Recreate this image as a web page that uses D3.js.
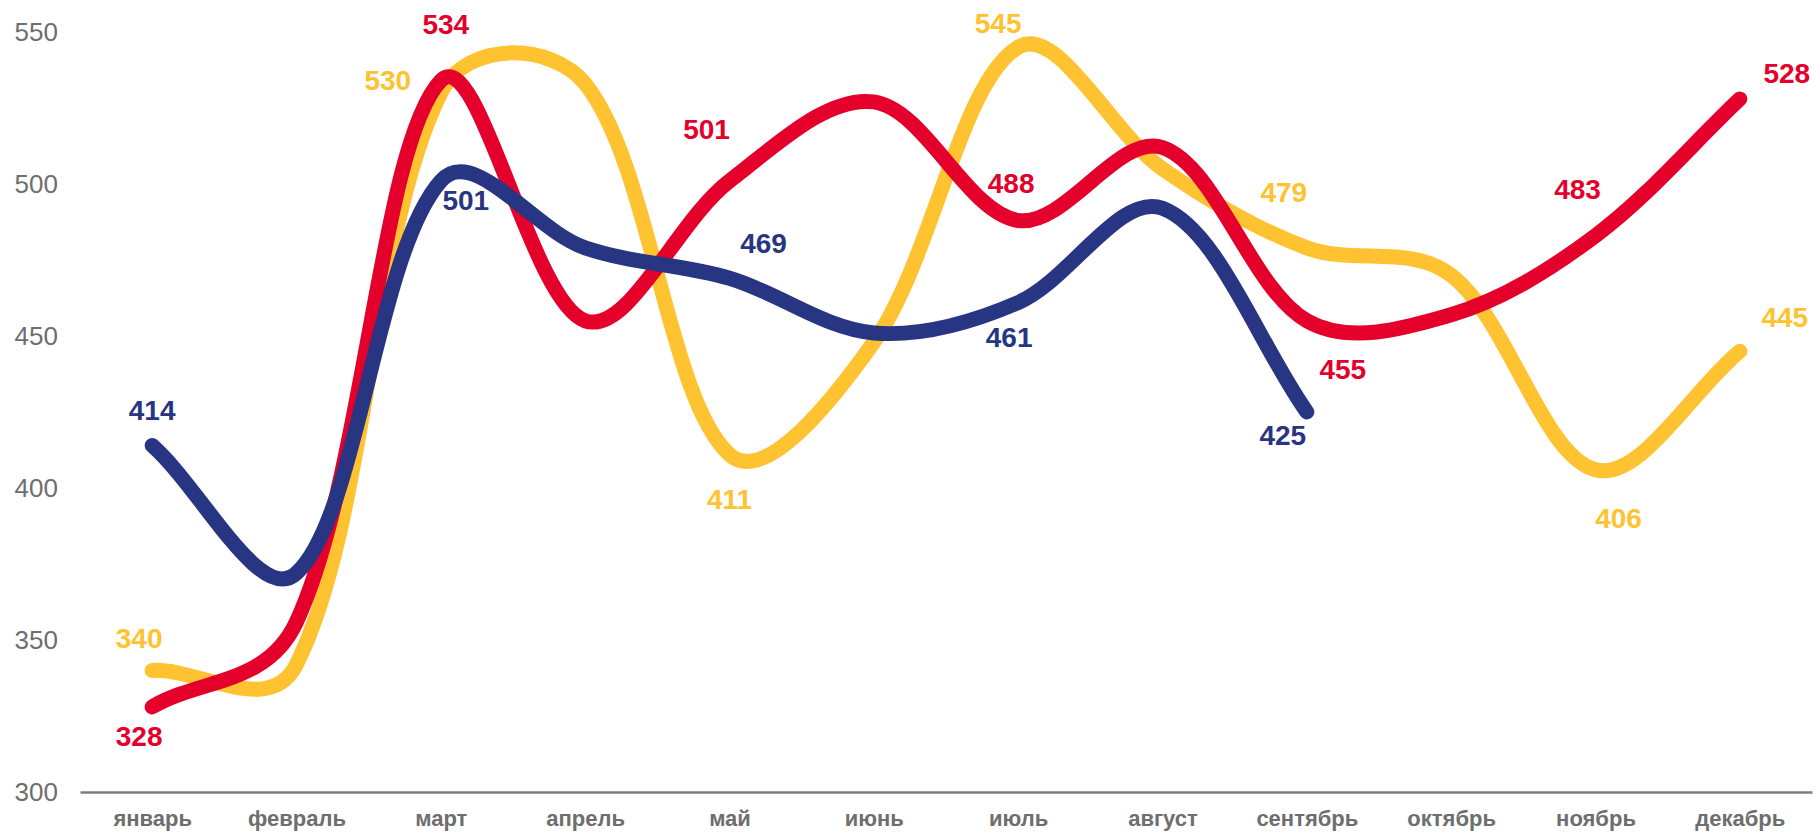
<!DOCTYPE html>
<html>
<head>
<meta charset="utf-8">
<script src="https://cdn.jsdelivr.net/npm/d3@7"></script>
<style>
    body { margin: 0; background: #fff; }
    #viz { width: 1816px; height: 835px; }
    text { font-family: "Liberation Sans", Arial, sans-serif; }
</style>
</head>
<body>
<div id="viz"></div>
<script>
//Datos
const months = ['январь', 'февраль', 'март', 'апрель', 'май', 'июнь', 'июль', 'август', 'сентябрь', 'октябрь', 'ноябрь', 'декабрь'];
const yellowValues = [340, 342, 530, 533, 411, 448, 545, 505, 479, 470, 406, 445];
const redValues = [328, 356, 534, 455, 501, 527, 488, 512, 455, 457, 483, 528];
const blueValues = [414, 372, 501, 479, 469, 451, 461, 492, 425];
const yTicks = [300, 350, 400, 450, 500, 550];

//Puntos con etiqueta
const labeledIndex = [0, 2, 4, 6, 8, 10, 11];

//Colores fijos
const COLOR_YELLOW = '#FFC230',
COLOR_RED = '#E4002B',
COLOR_BLUE = '#283583',
COLOR_GREY = '#6E6E6E';

//Posición de etiquetas respecto al punto (dx, dy)
const labelOffsets = {
    yellow: [[-13, -32], [-53, -13], [0, 44], [-20, -24], [-23, -56], [23, 48], [45, -34]],
    red: [[-13, 29], [5, -57], [-23, -52], [-7, -38], [36, 48], [-18, -47], [47, -26]],
    blue: [[0, -36], [25, 19], [34, -35], [-9, 34], [-24, 23]]
};

let width = 1816, height = 835;

let svg = d3.select('#viz')
    .append('svg')
    .attr('width', width)
    .attr('height', height);

let x = d3.scalePoint()
    .domain(months)
    .range([80, 1812])
    .padding(0.5);

let y = d3.scaleLinear()
    .domain([300, 550])
    .range([792, 32]);

//Eje X
let xAxis = svg.append('g')
    .attr('transform', 'translate(0,792)')
    .call(d3.axisBottom(x).tickSize(0).tickPadding(18));

xAxis.select('.domain')
    .attr('stroke', '#7F7F7F')
    .attr('stroke-width', 2.5);

xAxis.selectAll('text')
    .attr('fill', COLOR_GREY)
    .style('font-size', '22px')
    .style('font-weight', 'bold');

//Eje Y
let yAxis = svg.append('g')
    .attr('transform', 'translate(58,0)')
    .call(d3.axisLeft(y).tickValues(yTicks).tickSize(0).tickPadding(0));

yAxis.select('.domain').remove();

yAxis.selectAll('text')
    .attr('fill', COLOR_GREY)
    .style('font-size', '26px');

//Curva suavizada (tipo hoja de cálculo): tangentes ponderadas por la longitud de cada tramo
const SMOOTH = 0.34, POW = 0.7;

function smoothPath(pts) {
    let p = d3.path();
    let dist = function(a, b) { return Math.pow(Math.hypot(b[0] - a[0], b[1] - a[1]), POW); };
    p.moveTo(pts[0][0], pts[0][1]);
    for (let i = 0; i < pts.length - 1; i++) {
        let p0 = pts[Math.max(i - 1, 0)], p1 = pts[i], p2 = pts[i + 1], p3 = pts[Math.min(i + 2, pts.length - 1)];
        let d01 = dist(p0, p1), d12 = dist(p1, p2), d23 = dist(p2, p3);
        let f1 = SMOOTH * d12 / (d01 + d12 || 1);
        let f2 = SMOOTH * d12 / (d12 + d23 || 1);
        p.bezierCurveTo(
            p1[0] + (p2[0] - p0[0]) * f1, p1[1] + (p2[1] - p0[1]) * f1,
            p2[0] - (p3[0] - p1[0]) * f2, p2[1] - (p3[1] - p1[1]) * f2,
            p2[0], p2[1]);
    }
    return p.toString();
}

let series = [
    { key: 'yellow', values: yellowValues, color: COLOR_YELLOW },
    { key: 'red', values: redValues, color: COLOR_RED },
    { key: 'blue', values: blueValues, color: COLOR_BLUE }
];

svg.selectAll('.serie')
    .data(series)
    .enter()
    .append('path')
    .attr('class', 'serie')
    .attr('d', function(d) {
        return smoothPath(d.values.map(function(v, i) { return [x(months[i]), y(v)]; }));
    })
    .attr('fill', 'none')
    .attr('stroke', function(d) { return d.color; })
    .attr('stroke-width', 15)
    .attr('stroke-linecap', 'round')
    .attr('stroke-linejoin', 'round');

//Etiquetas
series.forEach(function(s) {
    let idx = labeledIndex.filter(function(i) { return i < s.values.length; });
    svg.selectAll('.label-' + s.key)
        .data(idx)
        .enter()
        .append('text')
        .attr('class', 'label-' + s.key)
        .attr('x', function(i, k) { return x(months[i]) + labelOffsets[s.key][k][0]; })
        .attr('y', function(i, k) { return y(s.values[i]) + labelOffsets[s.key][k][1]; })
        .attr('dy', '0.36em')
        .attr('text-anchor', 'middle')
        .attr('fill', s.color)
        .style('font-size', '28px')
        .style('font-weight', 'bold')
        .text(function(i) { return s.values[i]; });
});
</script>
</body>
</html>
